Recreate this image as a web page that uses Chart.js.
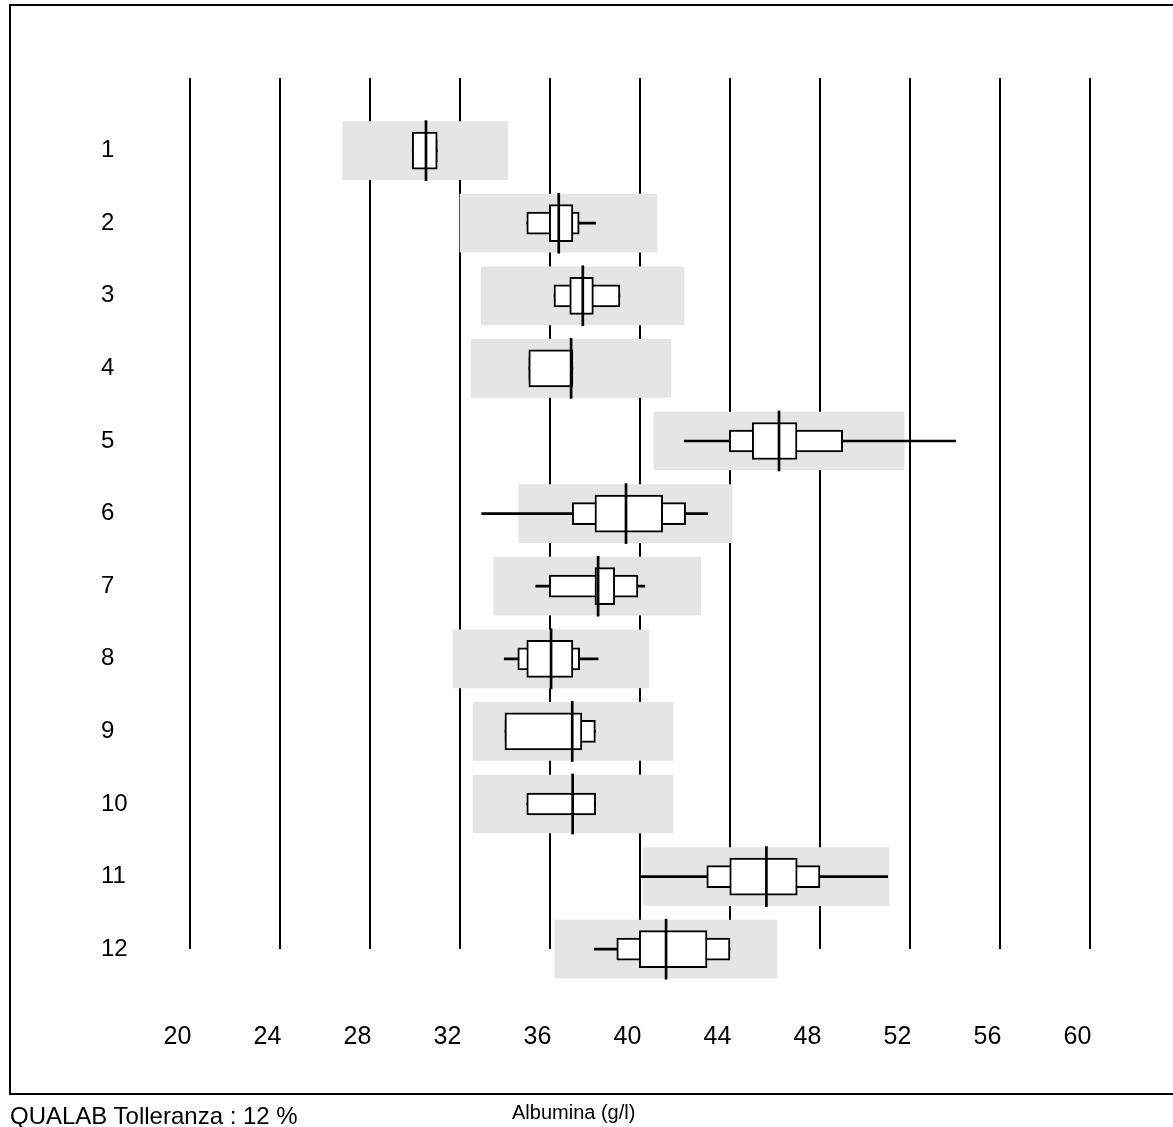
<!DOCTYPE html>
<html><head><meta charset="utf-8">
<script src="https://cdn.jsdelivr.net/npm/chart.js@4.4.0/dist/chart.umd.min.js"></script>
<style>
html,body{margin:0;padding:0;background:#fff;}
#wrap{position:relative;width:1173px;height:1127px;overflow:hidden;}
canvas{position:absolute;left:0;top:0;}
.foot{position:absolute;font-family:'Liberation Sans',Arial,sans-serif;color:#000;white-space:nowrap;}
</style></head><body>
<div id="wrap">
<canvas id="c" width="1173" height="1127"></canvas>
<div class="foot" style="left:10px;top:1104px;font-size:24px;line-height:24px;">QUALAB Tolleranza : 12 %</div>
<div class="foot" style="left:512px;top:1102px;font-size:20px;line-height:20px;">Albumina (g/l)</div>
</div>
<script>
// Row labels (samples)
const rows = ['1','2','3','4','5','6','7','8','9','10','11','12'];
// X tick labels
const xTicks = [20,24,28,32,36,40,44,48,52,56,60];
// Tolerance band (median ± 12 %)
const bandLow  = [26.81, 32.02, 32.96, 32.52, 40.64, 34.64, 33.53, 31.71, 32.60, 32.60, 40.16, 36.24];
const bandHigh = [34.14, 40.78, 41.98, 41.40, 51.76, 44.11, 42.72, 40.41, 41.48, 41.48, 51.09, 46.11];
// Whiskers (min / max)
const whiskerLow  = [29.90, 34.99, 36.20, 35.08, 41.99, 32.99, 35.39, 33.99, 34.02, 34.99, 40.02, 37.99];
const whiskerHigh = [31.01, 38.05, 39.13, 37.04, 54.05, 43.03, 40.24, 38.16, 38.04, 38.05, 51.03, 44.02];
// Outer box
const outerLow  = [29.90, 34.99, 36.20, 35.08, 43.99, 37.01, 35.99, 34.59, 34.02, 34.99, 42.99, 38.99];
const outerHigh = [31.01, 37.32, 39.13, 37.04, 49.03, 42.05, 39.93, 37.34, 38.04, 38.05, 48.02, 44.02];
// Inner box
const innerLow  = [29.90, 35.99, 36.90, 35.08, 45.01, 38.02, 38.02, 34.99, 34.02, 37.03, 44.01, 39.99];
const innerHigh = [31.01, 37.04, 37.95, 37.04, 47.00, 41.03, 38.90, 37.04, 37.44, 37.03, 47.01, 43.00];
// Median
const median = [30.51, 36.41, 37.48, 36.96, 46.20, 39.40, 38.16, 36.07, 37.01, 37.03, 45.64, 41.18];

const FONT = "'Liberation Sans', Arial, sans-serif";
const yLabels = [''].concat(rows);
const pairs = (lo, hi) => [null].concat(lo.map((v, i) => [v, hi[i]]));
const medHalf = 0.045;

const framePlugin = {
  id: 'frame',
  beforeDraw(chart) {
    const ctx = chart.ctx;
    ctx.save();
    ctx.fillStyle = '#fff';
    ctx.fillRect(0, 0, chart.width, chart.height);
    ctx.strokeStyle = '#000';
    ctx.lineWidth = 2;
    ctx.beginPath();
    ctx.moveTo(1175, 5); ctx.lineTo(10, 5); ctx.lineTo(10, 1094); ctx.lineTo(1175, 1094);
    ctx.stroke();
    ctx.restore();
  }
};

new Chart(document.getElementById('c'), {
  type: 'bar',
  data: {
    labels: yLabels,
    datasets: [
      { label: 'band', data: pairs(bandLow, bandHigh), backgroundColor: '#e5e5e5', borderWidth: 0, barThickness: 58, grouped: false, order: 5 },
      { label: 'whisker', data: pairs(whiskerLow, whiskerHigh), backgroundColor: '#000', borderWidth: 0, barThickness: 2, grouped: false, order: 4 },
      { label: 'outer', data: pairs(outerLow, outerHigh), backgroundColor: '#fff', borderColor: '#000', borderWidth: 2, borderSkipped: false, barThickness: 22, grouped: false, order: 3 },
      { label: 'inner', data: pairs(innerLow, innerHigh), backgroundColor: '#fff', borderColor: '#000', borderWidth: 2, borderSkipped: false, barThickness: 37, grouped: false, order: 2 },
      { label: 'median', data: [null].concat(median.map(m => [m - medHalf, m + medHalf])), backgroundColor: '#000', borderWidth: 0, barThickness: 60, grouped: false, order: 1 }
    ]
  },
  options: {
    indexAxis: 'y',
    responsive: false,
    animation: false,
    devicePixelRatio: 1,
    clip: false,
    layout: { padding: { left: 101, right: 83.5, top: 78, bottom: 75 } },
    plugins: { legend: { display: false }, tooltip: { enabled: false }, title: { display: false } },
    scales: {
      x: {
        type: 'linear', position: 'bottom', min: xTicks[0], max: xTicks[xTicks.length - 1],
        afterBuildTicks(scale) { scale.ticks = xTicks.map(v => ({ value: v })); },
        afterFit(scale) { scale.height = 102.8; },
        ticks: { stepSize: 4, labelOffset: -12, padding: 0, color: '#000', font: { family: FONT, size: 25 }, autoSkip: false, maxRotation: 0 },
        grid: { color: '#000', lineWidth: 2, drawTicks: true, tickLength: 73, tickColor: 'rgba(0,0,0,0)' },
        border: { display: false }
      },
      y: {
        type: 'category', labels: yLabels, offset: false,
        ticks: { crossAlign: 'far', padding: 0, color: '#000', font: { family: FONT, size: 24 }, autoSkip: false },
        grid: { display: false, drawTicks: false },
        border: { display: false },
        afterFit(scale) { scale.width = 88.5; }
      }
    }
  },
  plugins: [framePlugin]
});
</script>
</body></html>
